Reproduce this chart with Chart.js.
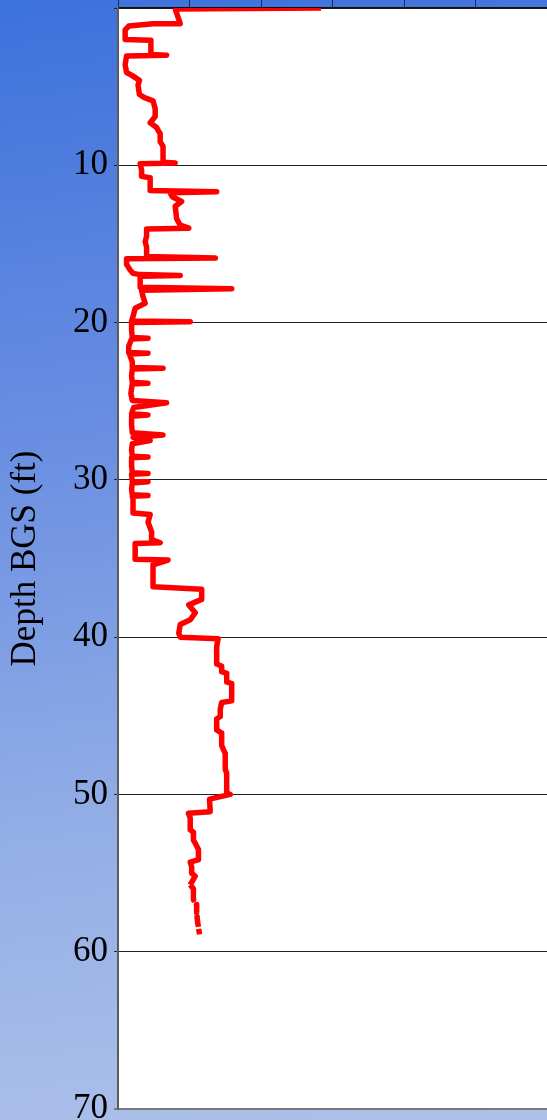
<!DOCTYPE html>
<html lang="en">
<head>
  <meta charset="UTF-8">
  <title>Depth Profile</title>
  <script src="https://cdn.jsdelivr.net/npm/chart.js"></script>
  <style>
    body {
      margin: 0;
      font-family: "Liberation Serif", "Times New Roman", serif;
    }
    .chart-container {
      position: relative;
      width: 547px;
      height: 1120px;
      background: linear-gradient(172deg, #3d71dc 0%, #6d91e2 40%, #93aee6 70%, #aec1ea 100%);
    }
  </style>
</head>
<body>
  <div class="chart-container">
    <canvas id="profileChart"></canvas>
  </div>

  <script>
    // log trace, read top-down: reading at each depth (ft below ground surface)
    const depthFt = [
      0.0, 0.06, 0.6, 1.0, 1.0, 1.15, 1.4, 2.0, 2.05, 2.95, 3.0, 3.05, 3.6, 4.1, 4.3, 4.6, 4.9, 5.5, 5.7, 5.9,
      6.4, 6.9, 7.3, 7.6, 8.0, 8.5, 8.8, 9.8, 9.85, 9.9,
      10.3, 10.7, 10.8, 11.6, 11.68, 11.75, 12.0, 12.3, 12.6, 13.4, 13.8, 14.0, 14.05, 14.5, 14.86, 15.2, 15.8,
      15.9, 15.95, 16.3, 16.66, 16.87, 16.95, 17.0, 17.05, 17.75, 17.85, 17.95, 18.35, 18.77, 19.09, 19.62,
      19.9, 19.95, 20.0,
      20.5, 20.95, 21.0, 21.05, 21.5, 21.9, 21.95, 22.0, 22.5, 22.85, 22.9, 22.95, 23.4, 23.8, 23.86, 23.9,
      24.5, 24.95, 25.1, 25.4, 25.8, 25.87, 25.95, 26.5, 27.0, 27.15, 27.3, 27.5, 27.7, 28.1, 28.5, 28.55,
      28.6, 29.1, 29.55, 29.6, 29.65, 30.1, 30.12, 30.2, 30.6, 30.95, 31.0, 31.05,
      31.2, 32.1, 32.2, 32.7, 33.3, 33.8, 34.0, 34.05, 35.05, 35.1, 35.4, 36.8, 36.95, 37.6, 37.95, 38.45,
      38.9, 39.2, 39.75, 40.0, 40.1,
      40.6, 41.7, 41.85, 42.2, 42.3, 42.85, 42.95, 44.05, 44.15, 44.6, 45.05, 45.2, 45.9, 46.1, 46.9, 47.4,
      48.4, 48.65, 49.9, 50.0, 50.3,
      51.1, 51.2, 51.5, 52.25, 52.4, 52.9, 53.1, 53.5, 54.15, 54.3, 54.6, 55.0, 55.2, 55.75, 56.0, 56.7,
      57.0, 57.5, 58.0, 58.9
    ];

    const readings = [
      28.4, 8.0, 8.4, 8.7, 4.9, 1.5, 1.0, 1.0, 4.6, 4.6, 6.8, 1.2, 1.0, 1.2, 2.0, 3.0, 2.8, 3.0, 3.7, 4.9,
      5.2, 5.2, 4.5, 5.4, 5.9, 5.9, 6.3, 6.3, 8.0, 3.1,
      3.3, 3.3, 4.5, 4.5, 13.8, 7.3, 7.6, 8.9, 8.0, 8.2, 8.7, 9.9, 4.0, 4.0, 3.8, 4.0, 4.0,
      13.6, 1.2, 1.2, 1.7, 2.1, 3.1, 8.7, 3.1, 3.1, 15.9, 3.3, 3.5, 3.8, 2.4, 2.1,
      1.9, 10.1, 1.9,
      1.9, 2.0, 4.2, 1.9, 1.5, 1.5, 4.2, 1.6, 2.0, 2.0, 6.3, 2.0, 1.9, 2.0, 4.2, 2.0,
      1.8, 2.0, 6.8, 2.2, 1.9, 4.2, 1.9, 1.9, 2.0, 6.3, 2.1, 4.5, 2.0, 1.9, 2.0, 4.2,
      1.9, 1.9, 2.0, 4.2, 1.9, 2.0, 4.2, 2.0, 1.9, 2.0, 4.2, 2.0,
      2.1, 2.1, 4.5, 4.2, 4.7, 4.7, 5.9, 2.4, 2.4, 7.0, 4.9, 4.9, 11.7, 11.7, 9.9, 10.8,
      10.1, 8.7, 8.5, 8.7, 14.0,
      13.8, 13.8, 14.5, 14.5, 15.2, 15.2, 15.9, 15.9, 14.5, 14.3, 14.3, 13.8, 13.8, 14.5, 14.5, 15.0,
      15.0, 15.2, 15.2, 15.7, 12.8,
      12.9, 9.85, 10.1, 10.1, 10.55, 10.55, 10.8, 11.25, 11.25, 10.1, 10.3, 10.3, 10.8, 10.1, 10.55, 10.55,
      11.0, 11.0, 11.1, 11.4
    ];

    const depthTicks = [0, 10, 20, 30, 40, 50, 60, 70];
    const readingTicks = [0, 10, 20, 30, 40, 50, 60];

    // white plot area on top of the page gradient
    const plotBackground = {
      id: 'plotBackground',
      beforeDraw(chart) {
        const { ctx, chartArea: a } = chart;
        ctx.save();
        ctx.fillStyle = '#ffffff';
        ctx.fillRect(a.left, a.top, a.right - a.left, a.bottom - a.top);
        ctx.restore();
      }
    };

    // keep the plot box fixed; label overhang is allowed to spill outside it
    function noOverhang(scale) {
      scale.paddingTop = 0;
      scale.paddingBottom = 0;
      scale.paddingLeft = 0;
      scale.paddingRight = 0;
    }

    const serif = '"Liberation Serif", "Times New Roman", serif';

    new Chart(document.getElementById('profileChart'), {
      type: 'scatter',
      data: {
        datasets: [{
          label: 'Reading',
          data: readings.map((v, i) => ({ x: v, y: depthFt[i] })),
          showLine: true,
          borderColor: '#ff0000',
          borderWidth: 5.5,
          borderJoinStyle: 'round',
          pointRadius: 0,
          tension: 0,
          clip: 0,
          segment: {
            borderDash: ctx => ctx.p0.parsed.y > 55.6 ? [12, 2] : undefined
          }
        }]
      },
      options: {
        responsive: true,
        maintainAspectRatio: false,
        animation: false,
        layout: {
          autoPadding: false,
          padding: { left: 0, right: 0, top: 0, bottom: 11 }
        },
        plugins: {
          legend: { display: false },
          tooltip: { enabled: false }
        },
        scales: {
          x: {
            type: 'linear',
            position: 'top',
            min: readingTicks[0],
            max: readingTicks[readingTicks.length - 1],
            afterBuildTicks: scale => { scale.ticks = readingTicks.map(v => ({ value: v })); },
            afterFit: scale => { scale.height = 8; noOverhang(scale); },
            ticks: { display: false },
            grid: {
              drawOnChartArea: false,
              drawTicks: true,
              tickLength: 8,
              color: '#1c2c58',
              lineWidth: 1
            },
            border: { display: true, color: '#111111', width: 1.5 }
          },
          y: {
            type: 'linear',
            position: 'left',
            reverse: true,
            min: depthTicks[0],
            max: depthTicks[depthTicks.length - 1],
            afterBuildTicks: scale => { scale.ticks = depthTicks.map(v => ({ value: v })); },
            afterFit: scale => { scale.width = 118; noOverhang(scale); },
            ticks: {
              color: '#000000',
              padding: 6,
              font: { family: serif, size: 35 },
              callback: v => v === 0 ? '' : v
            },
            grid: {
              tickLength: 4,
              color: ctx => ctx.tick && ctx.tick.value === 70 ? '#7a7a7a' : '#222222',
              lineWidth: ctx => ctx.tick && ctx.tick.value === 70 ? 2 : 1
            },
            border: { display: true, color: '#5c5c5c', width: 2 },
            title: {
              display: true,
              text: 'Depth BGS (ft)',
              color: '#000000',
              font: { family: serif, size: 35, lineHeight: 1.2 },
              padding: { top: 5, bottom: 0 }
            }
          }
        }
      },
      plugins: [plotBackground]
    });
  </script>
</body>
</html>
